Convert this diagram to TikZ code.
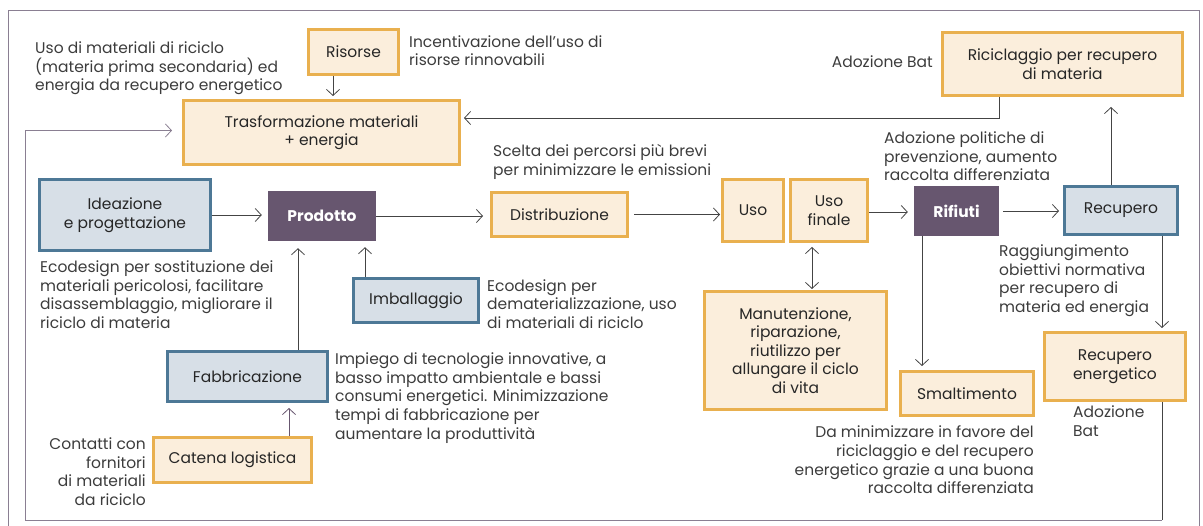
\documentclass[tikz,border=0pt]{standalone}
\usepackage{fontspec}
\setmainfont{Poppins}
\usetikzlibrary{arrows.meta,calc}
\definecolor{cream}{HTML}{FBEEDC}
\definecolor{orangeb}{HTML}{E9B04F}
\definecolor{bluef}{HTML}{D7DFE7}
\definecolor{blueb}{HTML}{4D7896}
\definecolor{purp}{HTML}{67566F}
\definecolor{txt}{HTML}{3C3C3C}
\definecolor{lin}{HTML}{444444}
\definecolor{frame}{HTML}{8A7F92}
\tikzset{
  base/.style={font=\fontsize{15.5}{18.6}\selectfont, inner sep=0pt},
  obox/.style={base, draw=orangeb, fill=cream, line width=3pt, align=center, text=black!85},
  bbox/.style={base, draw=blueb, fill=bluef, line width=3pt, align=center, text=black!85},
  pbox/.style={base, fill=purp, align=center, text=white, font=\fontsize{15.5}{18.6}\selectfont\bfseries},
  note/.style={base, text=txt, align=left, anchor=north west},
  noter/.style={base, text=txt, align=right, anchor=north east},
  arr/.style={draw=lin, line width=0.8pt, -{Straight Barb[length=6pt,width=13pt,line width=0.8pt]}},
  darr/.style={draw=lin, line width=0.8pt, {Straight Barb[length=6pt,width=13pt,line width=0.8pt]}-{Straight Barb[length=6pt,width=13pt,line width=0.8pt]}},
}
\begin{document}
\begin{tikzpicture}[x=1pt,y=-1pt]
\useasboundingbox (0,0) rectangle (1203,526);
\draw[frame, line width=1pt] (8,11) rectangle (1199,540);

% boxes
\node[obox, minimum width=90pt, minimum height=45pt] (risorse) at (353.5,52) {Risorse};
\node[obox, minimum width=276pt, minimum height=64pt] (trasf) at (321.5,132.5) {Trasformazione materiali\\+ energia};
\node[obox, minimum width=240pt, minimum height=63pt] (ricic) at (1062.5,64) {Riciclaggio per recupero\\di materia};
\node[bbox, minimum width=171pt, minimum height=71pt] (idea) at (125,215) {Ideazione\\e progettazione};
\node[pbox, minimum width=108pt, minimum height=50pt] (prodotto) at (322,216) {Prodotto};
\node[obox, minimum width=136pt, minimum height=44pt] (distrib) at (559.5,214.5) {Distribuzione};
\node[obox, minimum width=61pt, minimum height=62pt] (uso) at (753,210.5) {Uso};
\node[obox, minimum width=77pt, minimum height=62pt] (usofin) at (829,210.5) {Uso\\finale};
\node[obox, minimum width=182pt, minimum height=118pt] (manut) at (795.5,350.5) {Manutenzione,\\riparazione,\\riutilizzo per\\allungare il ciclo\\di vita};
\node[pbox, minimum width=85pt, minimum height=50pt] (rifiuti) at (956.5,211) {Rifiuti};
\node[bbox, minimum width=113pt, minimum height=48pt] (recupero) at (1121,210.5) {Recupero};
\node[obox, minimum width=133pt, minimum height=44pt] (smalt) at (967,393.5) {Smaltimento};
\node[obox, minimum width=141pt, minimum height=68pt] (recen) at (1115,366.5) {Recupero\\energetico};
\node[bbox, minimum width=125pt, minimum height=44pt] (imball) at (416,300.5) {Imballaggio};
\node[bbox, minimum width=160pt, minimum height=50pt] (fabbr) at (247.5,376.5) {Fabbricazione};
\node[obox, minimum width=158pt, minimum height=45pt] (catena) at (232.5,460) {Catena logistica};

% notes
\node[note] (n1) at (35,41.8) {Uso di materiali di riciclo\\(materia prima secondaria) ed\\energia da recupero energetico};
\node[note] (n2) at (409,35.2) {Incentivazione dell’uso di\\risorse rinnovabili};
\node[noter] (n3) at (933,55.2) {Adozione Bat};
\node[note] (n4) at (884,131.8) {Adozione politiche di\\prevenzione, aumento\\raccolta differenziata};
\node[note] (n5) at (493,144.5) {Scelta dei percorsi più brevi\\per minimizzare le emissioni};
\node[note] (n6) at (40,260.5) {Ecodesign per sostituzione dei\\materiali pericolosi, facilitare\\disassemblaggio, migliorare il\\riciclo di materia};
\node[note] (n7) at (487,279.3) {Ecodesign per\\dematerializzazione, uso\\di materiali di riciclo};
\node[note] (n8) at (335,352.8) {Impiego di tecnologie innovative, a\\basso impatto ambientale e bassi\\consumi energetici. Minimizzazione\\tempi di fabbricazione per\\aumentare la produttività};
\node[noter] (n9) at (146,437.8) {Contatti con\\fornitori\\di materiali\\da riciclo};
\node[note] (n10) at (999,244.8) {Raggiungimento\\obiettivi normativa\\per recupero di\\materia ed energia};
\node[note] (n11) at (1073,405.8) {Adozione\\Bat};
\node[noter] (n12) at (1034,425.8) {Da minimizzare in favore del\\riciclaggio e del recupero\\energetico grazie a una buona\\raccolta differenziata};

% connectors
\coordinate (rb) at (1162,520);
\coordinate (lb) at (25,520);
\draw[arr, shorten >=3pt] ([xshift=-20.5pt]risorse.south) -- ([xshift=-20.5pt]risorse.south |- trasf.north);
\draw[draw=lin, line width=0.8pt] ([xshift=47pt]recen.south) -- (rb);
\draw[arr, draw=frame, shorten >=10pt] (rb) -- (lb) |- ([yshift=2pt]trasf.west);
\draw[arr, shorten >=3pt] ([xshift=-63.5pt]ricic.south) |- ([yshift=14.5pt]trasf.east);
\draw[arr, shorten >=6pt] (idea.east) -- (prodotto.west |- idea.east);
\draw[arr, shorten >=7pt] (prodotto.east) -- (prodotto.east -| distrib.west);
\draw[arr, shorten <=5pt, shorten >=1pt] (distrib.east) -- (distrib.east -| uso.west);
\draw[darr, shorten <=4pt, shorten >=1pt] ([xshift=-17pt]usofin.south) -- ([xshift=-17pt]usofin.south |- manut.north);
\draw[arr, shorten >=6pt] ([yshift=-1.5pt]usofin.east) -- ([yshift=-1.5pt]usofin.east -| rifiuti.west);
\draw[arr, shorten <=4pt, shorten >=4pt] (rifiuti.east) -- (rifiuti.east -| recupero.west);
\draw[arr, shorten >=10pt] ([xshift=-10pt]recupero.north) -- ([xshift=-10pt]recupero.north |- ricic.south);
\draw[arr, shorten >=4pt] ([xshift=-34.5pt]rifiuti.south) -- ([xshift=-34.5pt]rifiuti.south |- smalt.north);
\draw[arr, shorten >=3pt] ([xshift=41pt]recupero.south) -- ([xshift=41pt]recupero.south |- recen.north);
\draw[arr, shorten >=6pt] ([xshift=-51pt]imball.north) -- ([xshift=-51pt]imball.north |- prodotto.south);
\draw[arr, shorten >=7pt] ([xshift=50.5pt]fabbr.north) -- ([xshift=50.5pt]fabbr.north |- prodotto.south);
\draw[arr, draw=purp, shorten >=5pt] ([xshift=56.5pt]catena.north) -- ([xshift=56.5pt]catena.north |- fabbr.south);
\end{tikzpicture}
\end{document}
